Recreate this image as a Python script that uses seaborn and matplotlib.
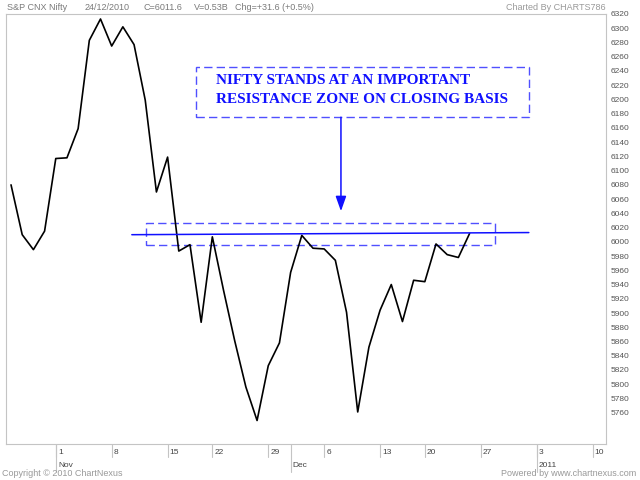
import numpy as np
import pandas as pd
import seaborn as sns
import matplotlib.pyplot as plt
from matplotlib.patches import Rectangle
from matplotlib.transforms import blended_transform_factory

# S&P CNX Nifty daily closes, 26 Oct 2010 - 24 Dec 2010 (trading days only)
trade_dates = ['26/10', '27/10', '28/10', '29/10',
               '01/11', '02/11', '03/11', '04/11', '05/11', '08/11', '09/11', '10/11',
               '11/11', '12/11', '15/11', '16/11', '18/11', '19/11', '22/11', '23/11',
               '24/11', '25/11', '26/11', '29/11', '30/11',
               '01/12', '02/12', '03/12', '06/12', '07/12', '08/12', '09/12', '10/12',
               '13/12', '14/12', '15/12', '16/12', '20/12', '21/12', '22/12', '23/12',
               '24/12']
close = [6080, 6010, 5989, 6015,
         6117, 6118, 6159, 6283, 6313, 6275, 6302, 6277,
         6199, 6070, 6119, 5987, 5996, 5887, 6007, 5932,
         5861, 5796, 5749, 5826, 5858,
         5957, 6009, 5991, 5990, 5974, 5901, 5761, 5852,
         5904, 5940, 5888, 5946, 5944, 5997, 5982, 5978,
         6011.6]

# x-axis calendar marks (trading-day index)
week_pos = [4, 9, 14, 18, 23, 28, 33, 37, 42, 47, 52]
week_labels = ['1', '8', '15', '22', '29', '6', '13', '20', '27', '3', '10']
month_pos = [4, 25, 47]
month_labels = ['Nov', 'Dec', '2011']
y_ticks = list(range(5760, 6321, 20))

# annotation geometry (in data units)
resistance_x = [10.8, 46.3]
resistance_y = [6010, 6013]
zone_x = [12.1, 43.3]
zone_y = [5996, 6027]
note_x = [16.5, 46.3]
note_y = [6175, 6246]
arrow_x = 29.5
arrow_y = [6175, 6043]
note_lines = ['NIFTY STANDS AT AN IMPORTANT', 'RESISTANCE ZONE ON CLOSING BASIS']
note_line_y = [6227, 6200]

df = pd.DataFrame({'day': np.arange(len(close)), 'close': close, 'date': trade_dates})

sns.set_style('white')
plt.rcParams['font.family'] = ['Liberation Sans', 'DejaVu Sans']

grey = '#7a7a7a'
blue = '#1010ff'
dash_blue = '#5050ff'

fig = plt.figure(figsize=(6.4, 4.8), dpi=100)
ax = fig.add_axes([6 / 640, 1 - 444 / 480, 600 / 640, 430 / 480])

sns.lineplot(data=df, x='day', y='close', ax=ax, color='black', linewidth=1.2)

ax.set_xlim(-0.45, 53.2)
ax.set_ylim(5716, 6320)
ax.set_xlabel('')
ax.set_ylabel('')

# y axis on the right
ax.yaxis.tick_right()
ax.set_yticks(y_ticks)
ax.set_yticklabels([str(v) for v in y_ticks])
ax.tick_params(axis='y', length=0, pad=3, labelsize=6, labelcolor='#555555')
ax.set_xticks([])
for s in ax.spines.values():
    s.set_color('#c4c4c4')
    s.set_linewidth(0.8)

# date ticks under the axis
trans = blended_transform_factory(ax.transData, ax.transAxes)
for p, lab in zip(week_pos, week_labels):
    ax.plot([p, p], [0, -0.03], transform=trans, color='#c4c4c4', lw=0.8, clip_on=False)
    ax.text(p + 0.2, -0.02, lab, transform=trans, fontsize=6, color='#444444',
            ha='left', va='center')
for p, lab in zip(month_pos, month_labels):
    ax.plot([p, p], [0, -0.065], transform=trans, color='#c4c4c4', lw=0.8, clip_on=False)
    ax.text(p + 0.2, -0.051, lab, transform=trans, fontsize=6, color='#444444',
            ha='left', va='center')

# resistance line and zone
ax.plot(resistance_x, resistance_y, color=blue, lw=1.1)
ax.add_patch(Rectangle((zone_x[0], zone_y[0]), zone_x[1] - zone_x[0], zone_y[1] - zone_y[0],
                       fill=False, edgecolor=dash_blue, lw=1.0, linestyle=(0, (6, 3))))

# note box with arrow
ax.add_patch(Rectangle((note_x[0], note_y[0]), note_x[1] - note_x[0], note_y[1] - note_y[0],
                       fill=False, edgecolor=dash_blue, lw=1.0, linestyle=(0, (6, 3))))
for txt, ty in zip(note_lines, note_line_y):
    ax.text(note_x[0] + 1.8, ty, txt, fontsize=11, color=blue, fontweight='bold',
            family=['Liberation Serif', 'DejaVu Serif'], ha='left', va='center')
ax.annotate('', xy=(arrow_x, arrow_y[1]), xytext=(arrow_x, arrow_y[0]),
            arrowprops=dict(arrowstyle='-|>,head_length=0.9,head_width=0.32',
                            color=blue, lw=1.1, shrinkA=0, shrinkB=0))

# header and footer texts
hdr_y = 1 - 7 / 480
fig.text(7 / 640, hdr_y, 'S&P CNX Nifty', fontsize=6.5, color=grey, va='center')
fig.text(85 / 640, hdr_y, '24/12/2010', fontsize=6.5, color=grey, va='center')
fig.text(143 / 640, hdr_y, 'C=6011.6', fontsize=6.5, color=grey, va='center')
fig.text(194 / 640, hdr_y, 'V=0.53B', fontsize=6.5, color=grey, va='center')
fig.text(235 / 640, hdr_y, 'Chg=+31.6 (+0.5%)', fontsize=6.5, color=grey, va='center')
fig.text(606 / 640, hdr_y, 'Charted By CHARTS786', fontsize=6.5, color='#999999',
         va='center', ha='right')
fig.text(2 / 640, 1 - 473 / 480, 'Copyright \u00a9 2010 ChartNexus', fontsize=6.5,
         color='#999999', va='center')
fig.text(636 / 640, 1 - 473 / 480, 'Powered by www.chartnexus.com', fontsize=6.5,
         color='#999999', va='center', ha='right')

fig.savefig('out.png', dpi=100)
